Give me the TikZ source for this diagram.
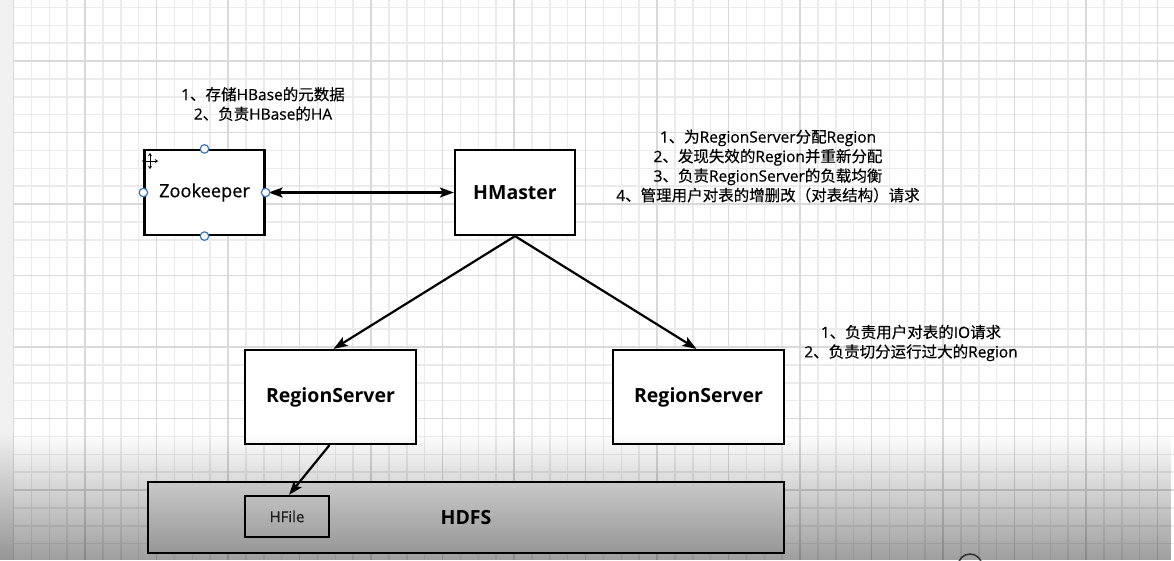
\documentclass[tikz,border=0pt]{standalone}
\usepackage{fontspec}
\setmainfont{Open Sans}
\newfontfamily\cjkfont{Noto Sans CJK SC}[FakeBold=0.3]
\newfontfamily\medfont{Open Sans}[FakeBold=0.6]
\newcommand\zh[1]{{\cjkfont #1}}
\usetikzlibrary{arrows.meta,fadings}
\tikzfading[name=fadedown, top color=transparent!100, bottom color=transparent!0]
\definecolor{gridminor}{HTML}{EBEBEB}
\definecolor{gridmajor}{HTML}{D9D9D9}
\definecolor{handleblue}{HTML}{3A75C4}
\definecolor{leftstrip}{HTML}{F1F1F1}
\definecolor{hdfsfill}{HTML}{ECECEC}
\begin{document}
\begin{tikzpicture}[x=1pt,y=-1pt,
  box/.style={draw=black, line width=2.2pt, fill=white, inner sep=0pt},
  lbl/.style={font=\fontsize{19.5}{21}\selectfont\bfseries},
  note/.style={align=center, font=\medfont\fontsize{15.5}{19.5}\selectfont, inner sep=0pt, text=black},
  conn/.style={line width=2.2pt, -{Stealth[length=14pt,width=10pt,inset=3pt]}},
  conn2/.style={line width=2.2pt, {Stealth[length=14pt,width=10pt,inset=3pt]}-{Stealth[length=14pt,width=10pt,inset=3pt]}},
  handle/.style={circle, draw=handleblue, fill=white, line width=1.2pt, minimum size=8.5pt, inner sep=0pt}]
\useasboundingbox (0,0) rectangle (1174,560);
\clip (0,0) rectangle (1174,560);
% background
\fill[white] (0,0) rectangle (1174,560);
\fill[leftstrip] (0,0) rectangle (13.5,560);
% grid minor
\foreach \i in {1,...,65}{
  \draw[gridminor, line width=1.5pt] ({13.5+17.875*\i},0) -- ({13.5+17.875*\i},560);
}
\foreach \j in {0,...,31}{
  \draw[gridminor, line width=1.5pt] (13.5,{7.375+17.875*\j}) -- (1174,{7.375+17.875*\j});
}
% grid major
\foreach \k in {0,...,16}{
  \draw[gridmajor, line width=1.5pt] ({13.5+71.5*\k},0) -- ({13.5+71.5*\k},560);
}
\foreach \k in {1,...,8}{
  \draw[gridmajor, line width=1.5pt] (13.5,{-10.5+71.5*\k}) -- (1174,{-10.5+71.5*\k});
}
% boxes
\node[box, minimum width=120pt, minimum height=85pt, font=\medfont\fontsize{18.2}{20}\selectfont] (zk) at (204.5,192.5) {Zookeeper};
\node[box, lbl, minimum width=120pt, minimum height=85pt] (hm) at (515,192.5) {HMaster};
\node[box, lbl, minimum width=171pt, minimum height=94pt] (rsl) at (330.5,397) {RegionServer};
\node[box, lbl, minimum width=171pt, minimum height=94pt] (rsr) at (698.5,397) {RegionServer};
\node[box, lbl, fill=hdfsfill, minimum width=636pt, minimum height=71pt] (hdfs) at (466,517.5) {HDFS};
\node[box, fill=hdfsfill, minimum width=84pt, minimum height=41pt, font=\medfont\fontsize{15}{17}\selectfont, text=black!85] (hfile) at (287,516.5) {HFile};
% notes
\node[note] (zknote) at (263,104) {1\zh{、存储}HBase\zh{的元数据}\\2\zh{、负责}HBase\zh{的}HA};
\node[note] (hmnote) at (768,166) {1\zh{、为}RegionServer\zh{分配}Region\\2\zh{、发现失效的}Region\zh{并重新分配}\\3\zh{、负责}RegionServer\zh{的负载均衡}\\4\zh{、管理用户对表的增删改（对表结构）请求}};
\node[note] (rsnote) at (911,343) {1\zh{、负责用户对表的}IO\zh{请求}\\2\zh{、负责切分运行过大的}Region};
% connectors
\draw[conn2, shorten <=3pt] (zk.east) -- (hm.west);
\draw[conn] (hm.south) -- ([xshift=3pt]rsl.north);
\draw[conn] (hm.south) -- ([xshift=-2pt]rsr.north);
\draw[conn] ([xshift=-1pt]rsl.south) -- ([xshift=2pt]hfile.north);
% selection handles
\node[handle] (hn) at (zk.north) {};
\node[handle] (hs) at (zk.south) {};
\node[handle] (hw) at (zk.west) {};
\node[handle] (he) at (zk.east) {};
% move cursor
\draw[line width=0.9pt, {Stealth[length=3pt,width=4pt]}-{Stealth[length=3pt,width=4pt]}] (142,161) -- (158,161);
\draw[line width=0.9pt, {Stealth[length=3pt,width=4pt]}-{Stealth[length=3pt,width=4pt]}] (150,153) -- (150,169);
% partial icon at bottom
\draw[black!70, line width=1.5pt] (970,566) circle[radius=12];
% bottom shading overlay
\fill[black, opacity=0.38, path fading=fadedown] (0,432) rectangle (1174,560);
\end{tikzpicture}
\end{document}
